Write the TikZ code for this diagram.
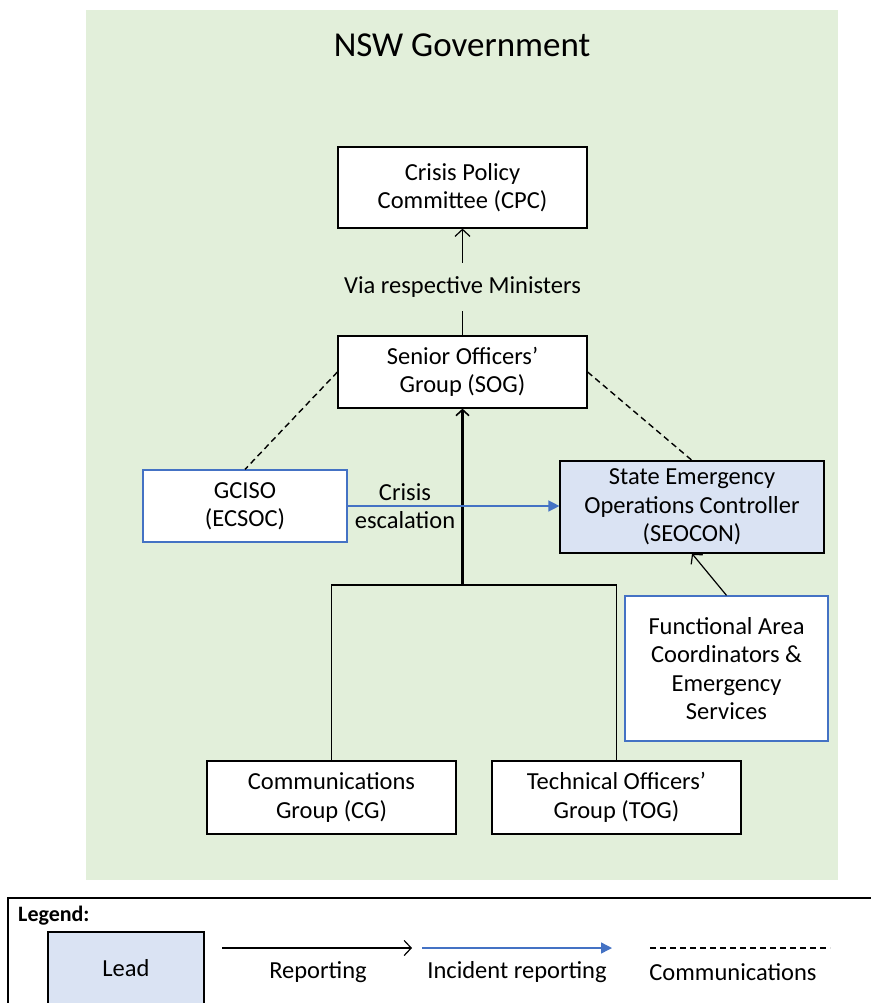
\documentclass[tikz,border=0pt]{standalone}
\usepackage{fontspec}
\setmainfont{Carlito}
\usetikzlibrary{arrows.meta}
\definecolor{bggreen}{HTML}{E2EFDA}
\definecolor{leadblue}{HTML}{DAE3F3}
\definecolor{edgeblue}{HTML}{4472C4}
\begin{document}
\begin{tikzpicture}[x=1pt,y=-1pt,
  every node/.style={font=\fontsize{24.5}{28.5}\selectfont, align=center, inner sep=0pt},
  box/.style={draw=black, line width=1.2pt, fill=white, minimum width=#1},
  bluebox/.style={draw=edgeblue, line width=1.2pt, fill=white, minimum width=#1},
  leadbox/.style={draw=black, line width=1.2pt, fill=leadblue, minimum width=#1},
  rep/.style={line width=1.2pt, -{Straight Barb[length=7pt,width=15pt,line width=1.2pt]}},
  threp/.style={line width=2.6pt, -{Straight Barb[length=6pt,width=13pt,line width=1.6pt]}},
  inc/.style={draw=edgeblue, line width=1.4pt, -{Triangle[length=11pt,width=11pt]}},
  comm/.style={line width=1.4pt, dash pattern=on 6pt off 4pt},
  plain/.style={line width=1.2pt}]
\useasboundingbox (0,0) rectangle (870,1003);
\fill[white] (0,0) rectangle (870,1003);
\fill[bggreen] (86,10) rectangle (838,880);
\node[font=\fontsize{35}{42}\selectfont] (title) at (462,45) {NSW Government};

\node[box=249pt, minimum height=81pt] (cpc) at (462.5,187.5) {Crisis Policy\\Committee (CPC)};
\node[box=249pt, minimum height=72pt] (sog) at (462.5,372) {Senior Officers'\\Group (SOG)};
\node[minimum height=48pt] (via) at (462.5,287) {Via respective Ministers};
\node[bluebox=204pt, minimum height=72pt] (gciso) at (245,506) {GCISO\\(ECSOC)};
\node[leadbox=264pt, minimum height=92pt] (seocon) at (692,507) {State Emergency\\Operations Controller\\(SEOCON)};
\node[bluebox=203pt, minimum height=145pt] (fac) at (726.5,668.5) {Functional Area\\Coordinators \&\\Emergency\\Services};
\node[box=249pt, minimum height=73pt] (cg) at (331.5,797.5) {Communications\\Group (CG)};
\node[box=249pt, minimum height=73pt] (tog) at (616.5,797.5) {Technical Officers'\\Group (TOG)};
\node (esc) at (405,506) {Crisis\\escalation};
\coordinate (j) at (462.5,585);

\draw[plain] (sog.north) -- (via.south);
\draw[rep] (via.north) -- (cpc.south);
\draw[comm] (sog.west) -- (gciso.north);
\draw[comm] (sog.east) -- (seocon.north);
\draw[plain] (cg.north) |- (j) -| (tog.north);
\draw[threp] (j) -- (j |- sog.south);
\draw[inc] (gciso.east) -- (gciso.east -| seocon.west);
\draw[rep] (fac.north) -- (seocon.south);

% legend
\draw[line width=1.2pt] (875,898) -- (8,898) -- (8,1010);
\node[font=\fontsize{22}{26}\selectfont\bfseries, anchor=west] (legtitle) at (18,916) {Legend:};
\node[leadbox=156pt, minimum height=72pt] (lead) at (126,968) {Lead};
\coordinate (r1) at (222,948); \coordinate (r2) at (412,948);
\coordinate (i1) at (422,948); \coordinate (i2) at (612,948);
\coordinate (c1) at (650,948); \coordinate (c2) at (830,948);
\draw[rep] (r1) -- (r2);
\draw[inc] (i1) -- (i2);
\draw[comm] (c1) -- (c2);
\node (lrep) at (318,972) {Reporting};
\node (linc) at (517,972) {Incident reporting};
\node (lcomm) at (733,972) {Communications};
\end{tikzpicture}
\end{document}
